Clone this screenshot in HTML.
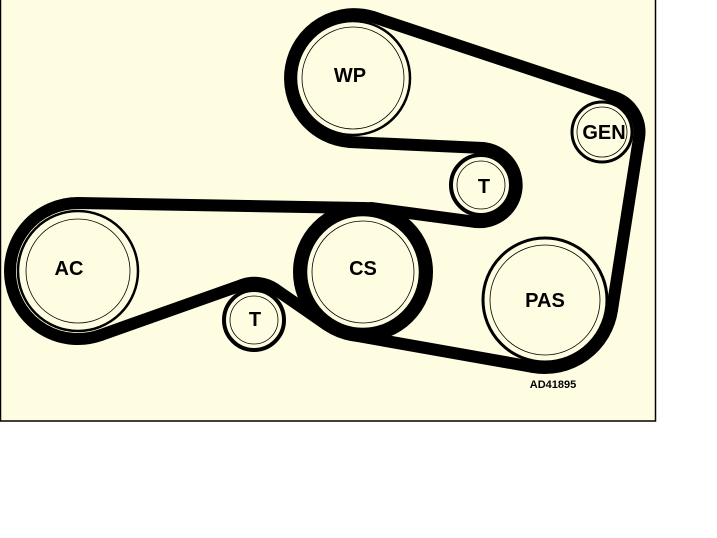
<!DOCTYPE html>
<html><head><style>
html,body{margin:0;padding:0;background:#fff;width:717px;height:538px;overflow:hidden}
svg{display:block}
text{font-family:"Liberation Sans",Arial,sans-serif;font-weight:bold;fill:#000}
</style></head><body>
<svg width="717" height="538" viewBox="0 0 717 538" xmlns="http://www.w3.org/2000/svg">
<rect x="0.5" y="-1" width="655" height="422" fill="#FFFDE1" stroke="#000" stroke-width="1.5"/>
<g fill="none" stroke="#000" stroke-width="12" stroke-linecap="round">
<line x1="373" y1="17" x2="614" y2="97"/>
<path d="M614 97 A37 37 0 0 1 639 138"/>
<line x1="639" y1="138" x2="612" y2="310"/>
<path d="M612 310 A68 68 0 0 1 533 367"/>
<line x1="533" y1="367" x2="352" y2="335"/>
<circle cx="363" cy="272" r="64"/>
<line x1="327" y1="325" x2="275" y2="289"/>
<path d="M242 285 A37 37 0 0 1 275 289"/>
<line x1="242" y1="285" x2="101" y2="335"/>
<path d="M78 203 A68 68 0 1 0 101 335"/>
<line x1="78" y1="203" x2="363" y2="208"/>
<line x1="371" y1="208" x2="476" y2="222"/>
<path d="M483 148 A37 37 0 1 1 476 222"/>
<line x1="350" y1="142" x2="483" y2="148"/>
<path d="M373 17 A64 64 0 1 0 350 142"/>
</g>
<g fill="#FFFDE1" stroke="#000">
<circle cx="353" cy="78" r="57" stroke-width="2.5"/>
<circle cx="353" cy="78" r="51" stroke-width="0.8"/>
<circle cx="602" cy="132" r="30" stroke-width="3"/>
<circle cx="602" cy="132" r="25" stroke-width="0.8"/>
<circle cx="481" cy="185" r="30" stroke-width="4"/>
<circle cx="481" cy="185" r="24" stroke-width="0.8"/>
<circle cx="363" cy="272" r="57" stroke-width="2.5"/>
<circle cx="363" cy="272" r="51" stroke-width="0.8"/>
<circle cx="78" cy="271" r="60" stroke-width="2.5"/>
<circle cx="78" cy="271" r="52" stroke-width="0.8"/>
<circle cx="254" cy="320" r="30" stroke-width="4"/>
<circle cx="254" cy="320" r="24" stroke-width="0.8"/>
<circle cx="545" cy="300" r="62" stroke-width="3"/>
<circle cx="545" cy="300" r="55" stroke-width="0.8"/>
</g>
<g font-size="20" text-anchor="middle">
<text x="350" y="82">WP</text>
<text x="604" y="139">GEN</text>
<text x="484" y="193">T</text>
<text x="69" y="275">AC</text>
<text x="363" y="275">CS</text>
<text x="255" y="326">T</text>
<text x="545" y="307">PAS</text>
</g>
<text x="553" y="388" font-size="11" text-anchor="middle">AD41895</text>
</svg>
</body></html>
